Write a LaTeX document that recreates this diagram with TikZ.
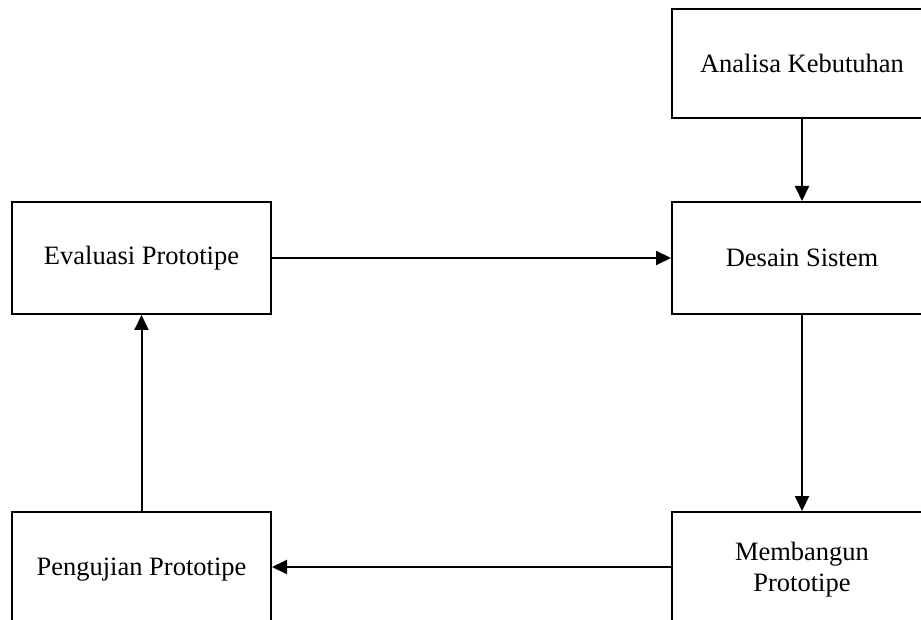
\documentclass[tikz,border=0pt]{standalone}
\usepackage{fontspec}
\setmainfont{Liberation Serif}
\usetikzlibrary{arrows.meta}
\begin{document}
\begin{tikzpicture}[x=1pt,y=-1pt,
  box/.style={draw,line width=2pt,minimum width=260pt,align=center,inner sep=0pt,
    font=\fontsize{26.5pt}{31pt}\selectfont},
  conn/.style={line width=2pt,-{Triangle[length=15pt,width=14pt]}}]
\useasboundingbox (0,0) rectangle (921,620);
\clip (0,0) rectangle (921,620);
\node[box,minimum height=109pt] (ana) at (802,63.5) {Analisa Kebutuhan};
\node[box,minimum height=112pt] (des) at (802,258) {Desain Sistem};
\node[box,minimum height=112pt,minimum width=259pt] (eva) at (141.5,258) {Evaluasi Prototipe};
\node[box,minimum height=116pt,minimum width=259pt] (pen) at (141.5,570) {Pengujian Prototipe};
\node[box,minimum height=116pt] (mem) at (802,570) {Membangun\\Prototipe};
\draw[conn] (ana) -- (des);
\draw[conn] (des) -- (mem);
\draw[conn] (eva.east) -- (des.west);
\draw[conn] (pen) -- (eva);
\draw[conn] (mem.west |- 0,567) -- (pen.east |- 0,567);
\end{tikzpicture}
\end{document}
